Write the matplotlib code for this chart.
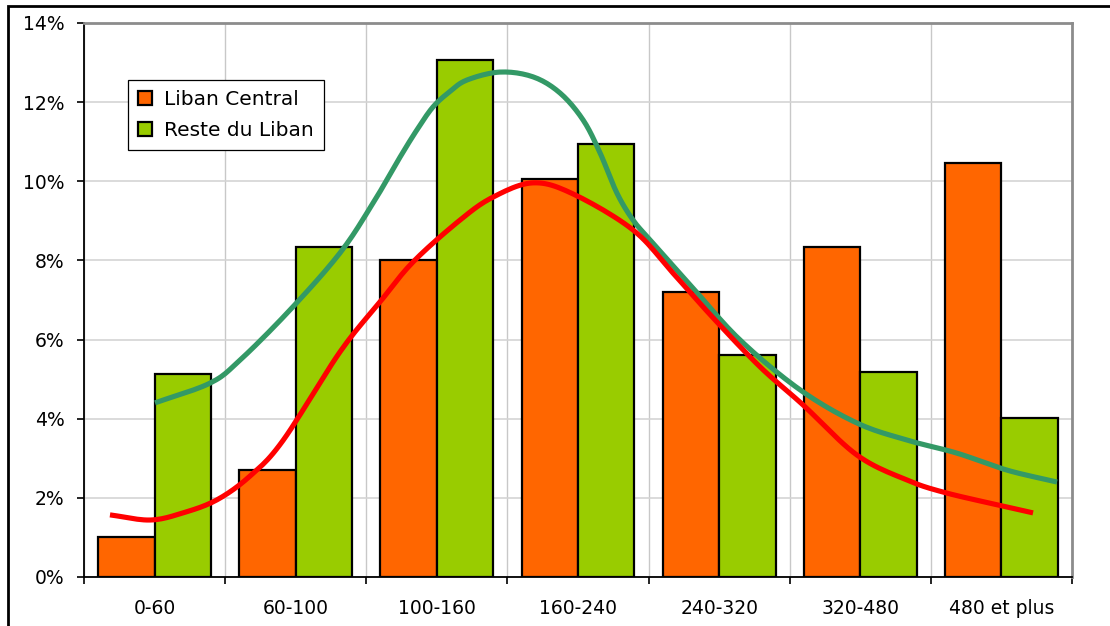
import numpy as np
import matplotlib
matplotlib.use('Agg')
import matplotlib.pyplot as plt
from matplotlib.patches import Rectangle
from matplotlib.ticker import FuncFormatter

plt.rcParams['font.family'] = ['DejaVu Sans']

# tranches et parts (%)
categories = ['0-60', '60-100', '100-160', '160-240', '240-320', '320-480', '480 et plus']
liban_central = [1.0, 2.7, 8.0, 10.06, 7.2, 8.33, 10.46]
reste_liban = [5.13, 8.33, 13.07, 10.94, 5.61, 5.18, 4.02]

# courbes de tendance (x en unités de catégorie, y en %)
central_curve_x = [-0.316, -0.032, 0.201, 0.442, 0.676, 0.910, 1.314, 1.597, 1.831, 2.164,
                   2.398, 2.681, 2.965, 3.390, 3.673, 3.957, 4.290, 4.594, 4.977, 5.331,
                   5.614, 6.040, 6.224]
central_curve_y = [1.57, 1.44, 1.62, 1.95, 2.55, 3.45, 5.69, 6.95, 7.96, 9.02,
                   9.60, 9.96, 9.68, 8.77, 7.68, 6.55, 5.31, 4.35, 3.08, 2.45,
                   2.12, 1.77, 1.62]
reste_curve_x = [0.003, 0.393, 0.605, 0.960, 1.314, 1.548, 1.739, 1.859, 1.973, 2.093,
                 2.214, 2.447, 2.681, 2.873, 3.036, 3.156, 3.276, 3.390, 3.510, 3.815,
                 4.148, 4.573, 4.977, 5.331, 5.685, 6.040, 6.394]
reste_curve_y = [4.40, 4.90, 5.48, 6.75, 8.19, 9.45, 10.61, 11.30, 11.88, 12.27,
                 12.56, 12.76, 12.64, 12.23, 11.55, 10.72, 9.70, 9.02, 8.52, 7.30,
                 5.99, 4.73, 3.89, 3.46, 3.13, 2.70, 2.40]


def smooth(xs, ys, n=12):
    # catmull-rom pour un tracé lissé façon tableur
    x = np.asarray(xs, float)
    y = np.asarray(ys, float)
    px = np.concatenate([[2 * x[0] - x[1]], x, [2 * x[-1] - x[-2]]])
    py = np.concatenate([[2 * y[0] - y[1]], y, [2 * y[-1] - y[-2]]])
    out_x, out_y = [], []
    t = np.linspace(0, 1, n, endpoint=False)
    for i in range(1, len(px) - 2):
        for p, out in ((px, out_x), (py, out_y)):
            p0, p1, p2, p3 = p[i - 1], p[i], p[i + 1], p[i + 2]
            out.extend(0.5 * ((2 * p1) + (-p0 + p2) * t
                              + (2 * p0 - 5 * p1 + 4 * p2 - p3) * t ** 2
                              + (-p0 + 3 * p1 - 3 * p2 + p3) * t ** 3))
    out_x.append(x[-1])
    out_y.append(y[-1])
    return out_x, out_y


fig = plt.figure(figsize=(11.1, 6.26), dpi=100)
ax = fig.add_axes([84 / 1110, 1 - 577 / 626, 988 / 1110, 554 / 626])

pos = np.arange(len(categories))
w = 0.4
ax.bar(pos - w / 2, liban_central, width=w, color='#FF6600', edgecolor='black',
       linewidth=1.6, label='Liban Central', zorder=3)
ax.bar(pos + w / 2, reste_liban, width=w, color='#99CC00', edgecolor='black',
       linewidth=1.6, label='Reste du Liban', zorder=3)

sx, sy = smooth(reste_curve_x, reste_curve_y)
ax.plot(sx, sy, color='#339966', linewidth=3.7, solid_capstyle='butt', zorder=4)
sx, sy = smooth(central_curve_x, central_curve_y)
ax.plot(sx, sy, color='#FF0000', linewidth=3.7, solid_capstyle='butt', zorder=5)

ax.set_xlim(-0.5, len(categories) - 0.5)
ax.set_ylim(0, 14)
ax.set_yticks(np.arange(0, 15, 2))
ax.yaxis.set_major_formatter(FuncFormatter(lambda v, p: '%d%%' % v))
ax.set_xticks(pos)
ax.set_xticklabels(categories)
ax.set_xticks(np.arange(-0.5, len(categories), 1), minor=True)
ax.tick_params(axis='x', which='major', length=0, pad=16, labelsize=13.5)
ax.tick_params(axis='x', which='minor', length=5, width=1.2, direction='out')
ax.tick_params(axis='y', length=5, width=1.2, pad=9, labelsize=13.5)

ax.grid(axis='y', color='#D4D4D4', linewidth=1.2, zorder=0)
ax.grid(axis='x', which='minor', color='#C8C8C8', linewidth=1.0, zorder=0)
ax.set_axisbelow(True)

for side in ('top', 'right'):
    ax.spines[side].set_color('#8C8C8C')
    ax.spines[side].set_linewidth(2)
for side in ('left', 'bottom'):
    ax.spines[side].set_color('black')
    ax.spines[side].set_linewidth(1.3)

leg = ax.legend(loc='upper left', bbox_to_anchor=(0.0445, 0.897), borderaxespad=0,
                fontsize=14.5, frameon=True, fancybox=False, framealpha=1,
                edgecolor='black', handlelength=0.7, handleheight=0.65,
                labelspacing=0.6, borderpad=0.5, handletextpad=0.6)
leg.get_frame().set_linewidth(0.9)
leg.set_zorder(6)

# cadre extérieur
fig.patches.append(Rectangle((8 / 1110, -0.1), 1.2, 1 - 6 / 626 + 0.1,
                             transform=fig.transFigure, fill=False,
                             edgecolor='black', linewidth=2))

fig.savefig('out.png', dpi=100)
